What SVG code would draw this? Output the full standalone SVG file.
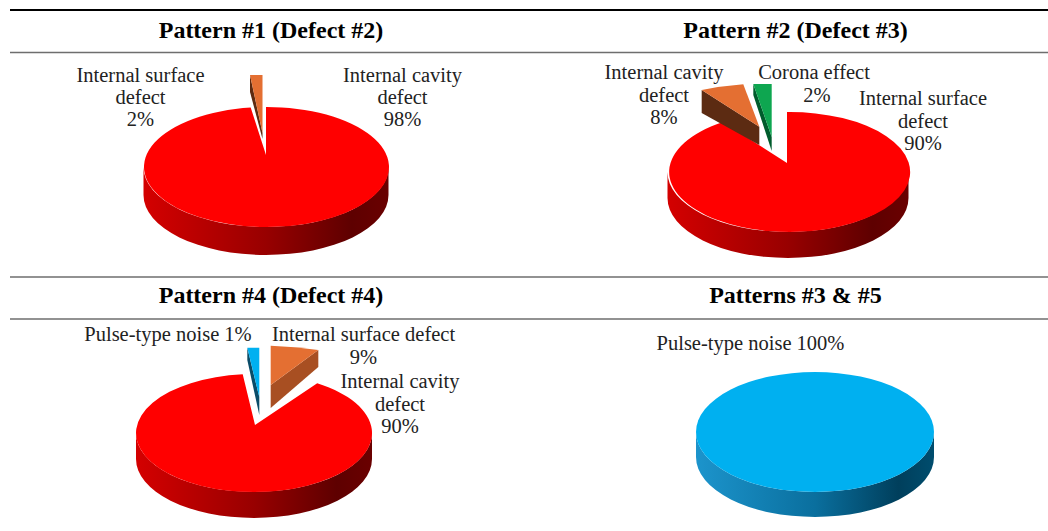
<svg xmlns="http://www.w3.org/2000/svg" width="1048" height="531" viewBox="0 0 1048 531">
<style>
.hdr{font-family:"Liberation Serif",serif;font-weight:bold;font-size:24px;fill:#000;text-anchor:middle}
.lbl{font-family:"Liberation Serif",serif;font-size:20.5px;fill:#222;text-anchor:middle}
.rule{stroke:#6e6e6e;stroke-width:1.6;fill:none}
.red{fill:#ff0000}
.redside{fill:url(#gRed)}
.blue{fill:#00b0f0}
.blueside{fill:url(#gBlue)}
.orange{fill:#e46f32}
</style>
<defs>
<linearGradient id="gRed" x1="0" y1="0" x2="1" y2="0">
<stop offset="0" stop-color="#d40000"/>
<stop offset="0.5" stop-color="#980000"/>
<stop offset="0.85" stop-color="#5e0000"/>
<stop offset="1" stop-color="#6a0000"/>
</linearGradient>
<linearGradient id="gBlue" x1="0" y1="0" x2="1" y2="0">
<stop offset="0" stop-color="#1c94cc"/>
<stop offset="0.5" stop-color="#0a6f9e"/>
<stop offset="0.85" stop-color="#003f5c"/>
<stop offset="1" stop-color="#004d6e"/>
</linearGradient>
</defs>
<rect width="1048" height="531" fill="#fff"/>
<g id="table-rules">
<line x1="10" y1="10" x2="1048" y2="10" stroke="#000" stroke-width="2.2"/>
<line class="rule" x1="10" y1="52.5" x2="1048" y2="52.5"/>
<line class="rule" x1="10" y1="277" x2="1048" y2="277"/>
<line class="rule" x1="10" y1="319" x2="1048" y2="319"/>
</g>
<g id="connectors"></g>
<g id="pattern1">
<text class="hdr" x="271" y="38">Pattern #1 (Defect #2)</text>
<path class="redside" d="M143.5,167 A122.5,60 0 0 0 388.5,167 L388.5,195 A122.5,60 0 0 1 143.5,195 Z"/>
<path class="red" d="M266,155 L266,107 A122.5,60 0 1 1 250.7,107.5 Z"/>
<path fill="#5e2a10" d="M250,75 L262.5,133 L262.5,139 L250,92 Z"/>
<path class="orange" d="M250,75 L262.5,75 L262.5,133 Z"/>
<text class="lbl" x="140.5" y="82">Internal surface</text>
<text class="lbl" x="140.5" y="104">defect</text>
<text class="lbl" x="140.5" y="126">2%</text>
<text class="lbl" x="402.5" y="82">Internal cavity</text>
<text class="lbl" x="402.5" y="104">defect</text>
<text class="lbl" x="402.5" y="126">98%</text>
</g>
<g id="pattern2">
<text class="hdr" x="795.5" y="38">Pattern #2 (Defect #3)</text>
<path class="redside" d="M667.5,172 A120.5,60 0 0 0 908.5,172 L908.5,198 A120.5,60 0 0 1 667.5,198 Z"/>
<path class="red" d="M787,163 L787,112 A120.5,60 0 1 1 723,122 Z"/>
<path fill="#5c2b12" d="M701.7,90 L759.3,126.7 L759.3,145 L701.7,113 Z"/>
<path class="orange" d="M701.7,90 Q722,86 743.3,84.3 L759.3,126.7 Z"/>
<path fill="#005c2c" d="M753.3,84 L771.7,137 L771.7,151 L753.3,95 Z"/>
<path fill="#0ea650" d="M753.3,84 L771.7,84 L771.7,137 Z"/>
<text class="lbl" x="664" y="79">Internal cavity</text>
<text class="lbl" x="664" y="101.5">defect</text>
<text class="lbl" x="664" y="124">8%</text>
<text class="lbl" x="814" y="79">Corona effect</text>
<text class="lbl" x="817" y="101.5">2%</text>
<text class="lbl" x="923" y="105">Internal surface</text>
<text class="lbl" x="923" y="127.5">defect</text>
<text class="lbl" x="923" y="150">90%</text>
</g>
<g id="pattern4">
<text class="hdr" x="271" y="303">Pattern #4 (Defect #4)</text>
<path class="redside" d="M136,433 A118,59 0 0 0 372,433 L372,459 A118,59 0 0 1 136,459 Z"/>
<path class="red" d="M255,425 L317.2,383.2 A118,59 0 1 1 242.7,374.3 Z"/>
<path fill="#a84f22" d="M270.7,385 L318.3,350 L318.3,367 L270.7,408 Z"/>
<path class="orange" d="M270.7,345.7 Q295,346.5 318.3,350 L270.7,385 Z"/>
<path fill="#0a4c68" d="M247.3,347.7 L259.3,397 L259.3,415 L247.3,360 Z"/>
<path class="blue" d="M247.3,347.7 L259.3,347.7 L259.3,397 Z"/>
<text class="lbl" x="168" y="341">Pulse-type noise 1%</text>
<text class="lbl" x="363.5" y="341">Internal surface defect</text>
<text class="lbl" x="363.5" y="363.5">9%</text>
<text class="lbl" x="400" y="388">Internal cavity</text>
<text class="lbl" x="400" y="410.5">defect</text>
<text class="lbl" x="400" y="433">90%</text>
</g>
<g id="patterns3and5">
<text class="hdr" x="795.5" y="303">Patterns #3 &amp; #5</text>
<path class="blueside" d="M696,432 A119,60 0 0 0 934,432 L934,457 A119,60 0 0 1 696,457 Z"/>
<ellipse class="blue" cx="815" cy="432" rx="119" ry="60"/>
<text class="lbl" x="750.5" y="350">Pulse-type noise 100%</text>
</g>
</svg>
